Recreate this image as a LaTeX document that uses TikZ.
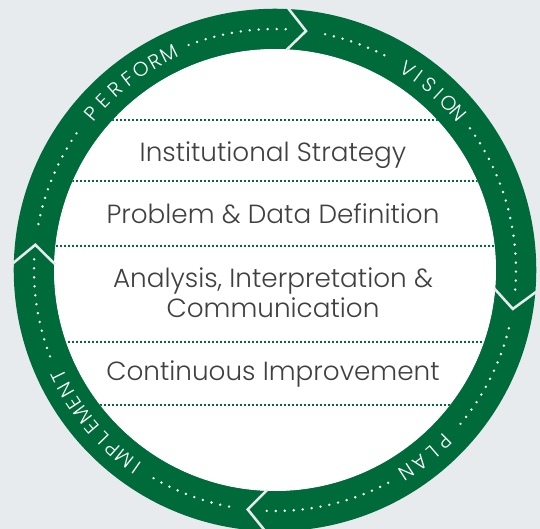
\documentclass[tikz,border=0pt]{standalone}
\usepackage{fontspec}
\setmainfont{Poppins}[UprightFont=* Light]
\definecolor{ringgreen}{HTML}{006B3A}
\definecolor{paper}{HTML}{E8EBEE}
\definecolor{inkgray}{HTML}{404040}

% letters of a ring word: name, first angle, step, letters
\newcommand\ringword[4]{%
  \foreach \ch [count=\k] in {#4} {
    \pgfmathsetmacro\ang{#2-#3*(\k-1)}
    \node[ringletter, rotate=\ang-90] (#1-\k) at (\ang:241) {\ch};
  }%
}

\tikzset{
  stage/.style={font=\fontsize{19.7}{22.5}\selectfont, text=inkgray, align=center},
  ringletter/.style={font=\fontsize{15}{15}\selectfont, text=white, inner sep=0pt},
  divider/.style={ringgreen, line width=1.2pt, dash pattern=on 1.2pt off 1.8pt},
  trail/.style={white, line width=2pt, line cap=round, dash pattern=on 0pt off 6.75pt},
  chevron/.style={paper, line width=1.9pt},
}

\begin{document}
\begin{tikzpicture}[x=0.75pt,y=0.75pt]
  \fill[paper] (0,0) rectangle (540,-529);
  \useasboundingbox (0,0) rectangle (540,-529);
  \coordinate (c) at (275,-270);

  % green ring with the white face inside
  \draw[ringgreen, line width=30.4pt] (c) circle[radius=241];
  \fill[white] (c) circle[radius=221];

  % dotted rules across the face
  \begin{scope}
    \clip (c) circle[radius=221];
    \foreach \y in {120,181,246,342,405}
      \draw[divider] (0,-\y) -- (540,-\y);
  \end{scope}

  \node[stage, anchor=base] (strategy) at (273,-161) {Institutional Strategy};
  \node[stage, anchor=base] (problem) at (273,-223) {Problem \& Data Definition};
  \node[stage, anchor=base] (analysis) at (273,-317) {Analysis, Interpretation \&\\Communication};
  \node[stage, anchor=base] (improve) at (273,-380) {Continuous Improvement};

  \begin{scope}[shift={(c)}]
    % white dots running round the ring
    \foreach \a/\b in {169/145,111/86,78/62,36/-5,-14/-41,-62/-92,-101/-121,-159/-183}
      \draw[trail] (\a:241) arc[start angle=\a, end angle=\b, radius=241];

    % chevrons, tips pointing clockwise
    \foreach \t in {82.6,-9.3,-96.5,174}
      \draw[chevron] ({\t+4.5}:262) -- (\t:241) -- ({\t+4.5}:220);

    \ringword{perform}{139.4}{3.9}{P,E,R,F,O,R,M}
    \ringword{vision}{56.6}{3.2}{V,I,S,I,O,N}
    \ringword{plan}{-45.3}{3.85}{P,L,A,N}
    \ringword{implement}{-125}{3.6}{I,M,P,L,E,M,E,N,T}
  \end{scope}
\end{tikzpicture}
\end{document}
